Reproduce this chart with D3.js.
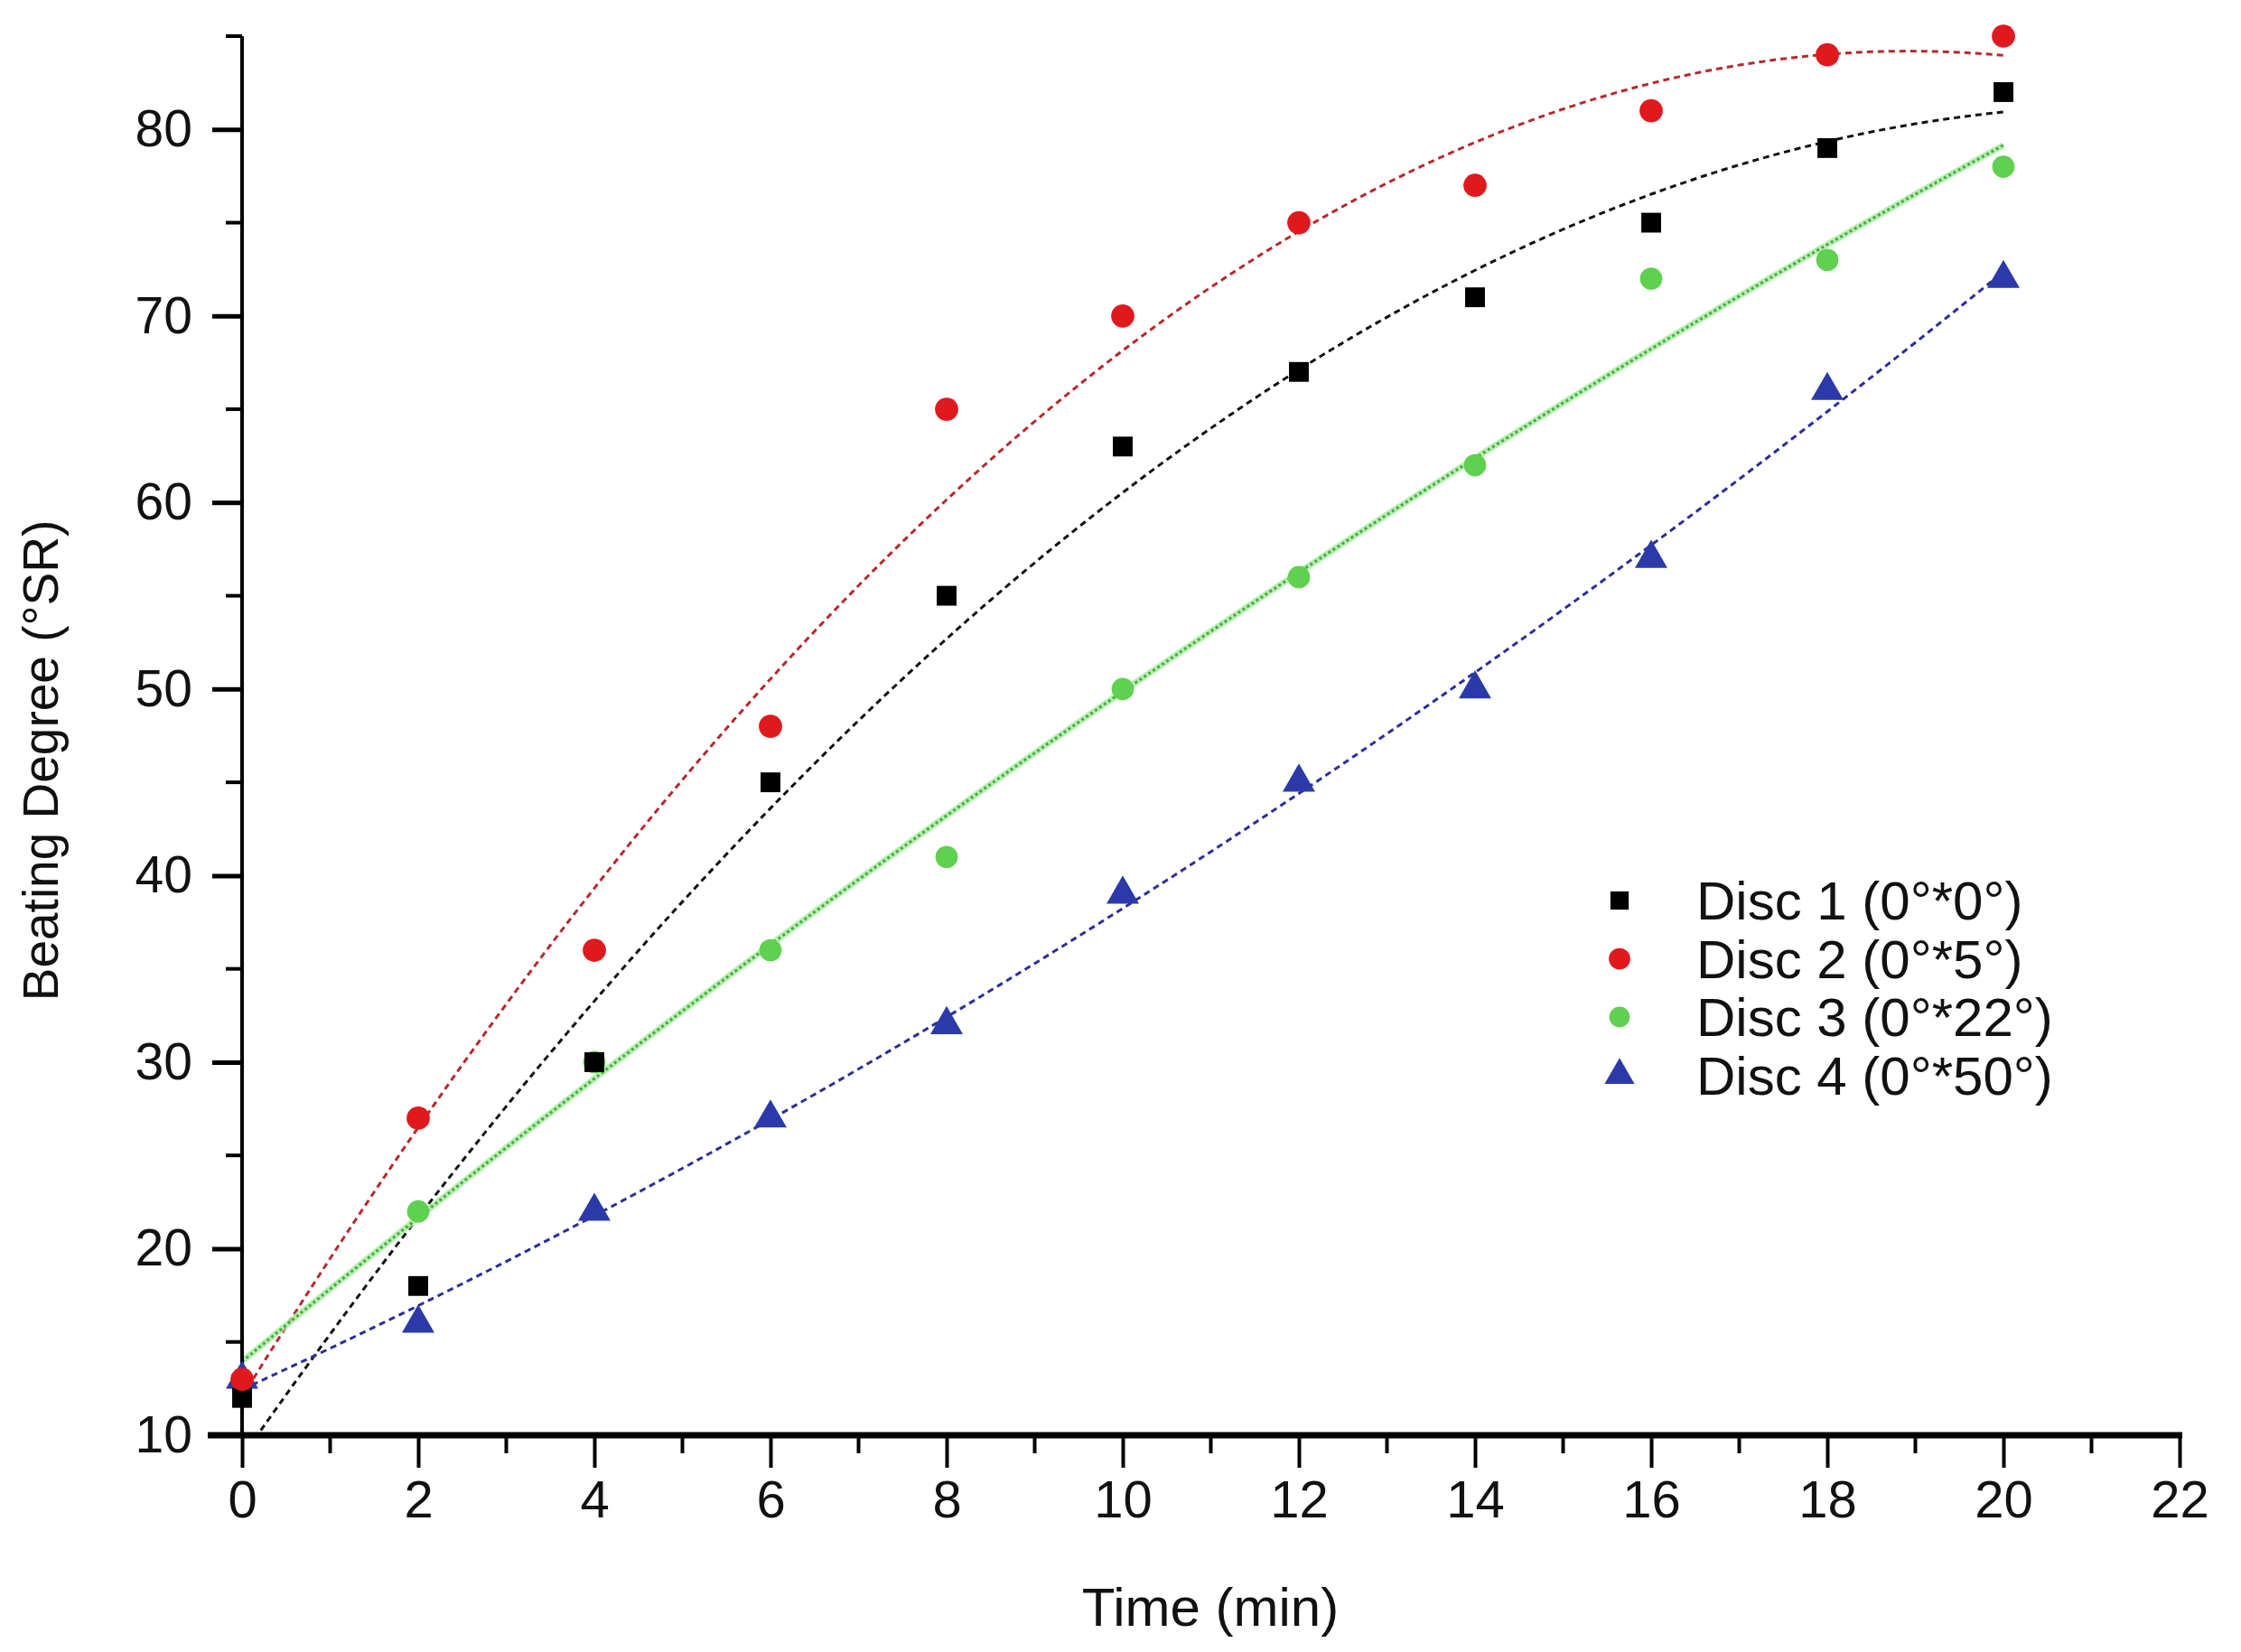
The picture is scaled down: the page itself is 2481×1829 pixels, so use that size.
<!DOCTYPE html>
<html><head><meta charset="utf-8">
<script src="https://cdn.jsdelivr.net/npm/d3@7"></script>
<style>body{margin:0;background:#fff}svg{display:block}text{font-family:"Liberation Sans",Arial,sans-serif;fill:#111}</style>
</head><body>
<script>
const times = [0,2,4,6,8,10,12,14,16,18,20];
const disc1 = [12,18,30,45,55,63,67,71,75,79,82];
const disc2 = [13,27,36,48,65,70,75,77,81,84,85];
const disc3 = [null,22,30,36,41,50,56,62,72,73,78];
const disc4 = [13,16,22,27,32,39,45,50,57,66,72];
const seriesNames = ["Disc 1 (0°*0°)","Disc 2 (0°*5°)","Disc 3 (0°*22°)","Disc 4 (0°*50°)"];
const xTicks = [0,2,4,6,8,10,12,14,16,18,20,22];
const yTicks = [10,20,30,40,50,60,70,80];

const W=2481,H=1829;
const svg=d3.select("body").append("svg").attr("width",W).attr("height",H);
const x=d3.scaleLinear().domain([0,22]).range([268,2413]);
const y=d3.scaleLinear().domain([10,85]).range([1589,40]);

const styles=[
 {marker:"#000000", line:"#111111", sym:d3.symbolSquare, size:480, dash:"7,5"},
 {marker:"#e0191e", line:"#b8282c", sym:d3.symbolCircle, size:520, dash:"7,5"},
 {marker:"#5fd04f", line:"#3fae3a", sym:d3.symbolCircle, size:480, dash:"3,3", glow:"#a8eaa0"},
 {marker:"#2b3aa8", line:"#2a2f9a", sym:d3.symbolTriangle, size:560, dash:"7,5"}
];
const data=[disc1,disc2,disc3,disc4];

function quadFit(xs,ys){
  let S=[0,0,0,0,0],T=[0,0,0];
  xs.forEach((xv,i)=>{if(ys[i]==null)return;let p=1;for(let k=0;k<5;k++){S[k]+=p;if(k<3)T[k]+=p*ys[i];p*=xv;}});
  const A=[[S[0],S[1],S[2],T[0]],[S[1],S[2],S[3],T[1]],[S[2],S[3],S[4],T[2]]];
  for(let i=0;i<3;i++){for(let j=i+1;j<3;j++){const f=A[j][i]/A[i][i];for(let k=i;k<4;k++)A[j][k]-=f*A[i][k];}}
  const c=[0,0,0];
  for(let i=2;i>=0;i--){let s=A[i][3];for(let k=i+1;k<3;k++)s-=A[i][k]*c[k];c[i]=s/A[i][i];}
  return c;
}

svg.append("clipPath").attr("id","clip").append("rect")
  .attr("x",268).attr("y",20).attr("width",2160).attr("height",1569);

const line=d3.line().x(d=>x(d[0])).y(d=>y(d[1]));
const gLines=svg.append("g").attr("clip-path","url(#clip)");
data.forEach((ys,i)=>{
  const c=quadFit(times,ys);
  const pts=d3.range(0,201).map(k=>{const t=k/10;return [t,c[0]+c[1]*t+c[2]*t*t];});
  const st=styles[i];
  if(st.glow) gLines.append("path").attr("d",line(pts)).attr("fill","none").attr("stroke",st.glow).attr("stroke-width",7).attr("opacity",0.8);
  gLines.append("path").attr("d",line(pts)).attr("fill","none").attr("stroke",st.line)
    .attr("stroke-width",3).attr("stroke-dasharray",st.dash);
});

// axes
const xAxis=d3.axisBottom(x).tickValues(xTicks).tickSize(36).tickPadding(14).tickFormat(d3.format("d"));
const gx=svg.append("g").attr("transform","translate(0,1589)").call(xAxis);
gx.select(".domain").attr("d","M230,0H2416").attr("stroke","#000").attr("stroke-width",7);
gx.selectAll(".tick line").attr("stroke-width",4);
gx.selectAll("text").attr("font-size",58).attr("font-family","Liberation Sans, Arial").attr("fill","#111");
gx.selectAll(".minor").data(d3.range(1,22,2)).enter().append("line")
  .attr("x1",d=>x(d)).attr("x2",d=>x(d)).attr("y1",0).attr("y2",20).attr("stroke","#000").attr("stroke-width",4);

const yAxis=d3.axisLeft(y).tickValues(yTicks).tickSize(33).tickPadding(22).tickFormat(d3.format("d"));
const gy=svg.append("g").attr("transform","translate(268,0)").call(yAxis);
gy.select(".domain").attr("d","M0,1589V40").attr("stroke","#000").attr("stroke-width",4);
gy.selectAll(".tick line").attr("stroke-width",5);
gy.selectAll("text").attr("font-size",57).attr("font-family","Liberation Sans, Arial").attr("fill","#111");
gy.selectAll(".minor").data([15,25,35,45,55,65,75,85]).enter().append("line")
  .attr("x1",-18).attr("x2",0).attr("y1",d=>y(d)).attr("y2",d=>y(d)).attr("stroke","#000").attr("stroke-width",4);

// markers
const order=[2,3,0,1];
order.forEach(i=>{
  const st=styles[i];
  svg.append("g").selectAll("path").data(times.map((t,k)=>[t,data[i][k]]).filter(d=>d[1]!=null)).enter().append("path")
    .attr("d",d3.symbol().type(st.sym).size(st.size))
    .attr("transform",d=>`translate(${x(d[0])},${y(d[1])})`)
    .attr("fill",st.marker);
});

// titles
svg.append("text").attr("x",1340).attr("y",1800).attr("text-anchor","middle").attr("font-size",60).text("Time (min)");
svg.append("text").attr("transform","translate(64,842) rotate(-90)").attr("text-anchor","middle").attr("font-size",55).text("Beating Degree (°SR)");

// legend
const lg=svg.append("g");
seriesNames.forEach((n,i)=>{
  const yy=997+i*64.5, st=styles[i];
  lg.append("path").attr("d",d3.symbol().type(st.sym).size(st.size*0.85)).attr("transform",`translate(1793,${yy})`).attr("fill",st.marker);
  lg.append("text").attr("x",1878).attr("y",yy+21).attr("font-size",60).text(n);
});
</script>
</body></html>
